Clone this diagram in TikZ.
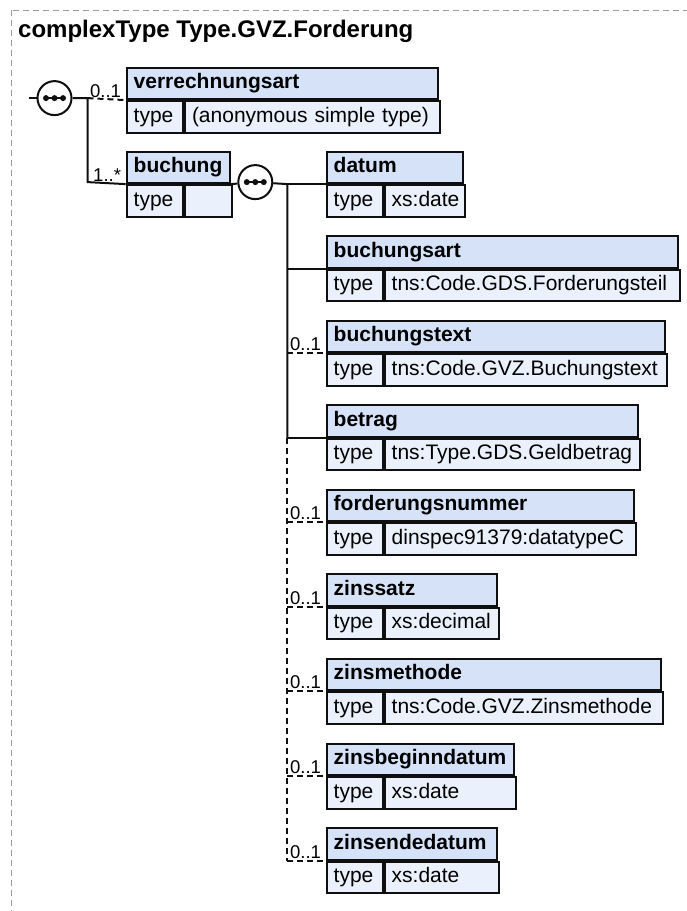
\documentclass[tikz,border=0pt]{standalone}
\usepackage{fontspec}
\setmainfont{Liberation Sans}
\usepackage{xcolor}
\usepackage{tikz}
\usetikzlibrary{positioning}
\definecolor{hdrblue}{RGB}{214,226,247}
\definecolor{bodyblue}{RGB}{235,241,252}
\definecolor{framegray}{RGB}{155,155,155}
\definecolor{linegray}{RGB}{15,15,15}

\begin{document}
\begin{tikzpicture}[
  x=1pt, y=-1pt,
  every node/.style={inner sep=0pt},
  hdr/.style={draw=linegray, fill=hdrblue, line width=2pt, rectangle, anchor=north west,
              minimum height=31.4pt, inner xsep=7pt, align=left,
              text height=15pt, text depth=4.5pt,
              font=\fontsize{21}{25}\selectfont\bfseries},
  cell/.style={draw=linegray, fill=bodyblue, line width=2pt, rectangle,
               minimum height=31.6pt, inner xsep=7pt, align=left,
               text height=15pt, text depth=4.5pt,
               font=\fontsize{21}{25}\selectfont},
  card/.style={anchor=base east, font=\fontsize{18.5}{22}\selectfont},
  seq/.style={draw=linegray, fill=white, circle, line width=2pt, minimum size=34pt},
  link/.style={draw=linegray, line width=2pt},
  optlink/.style={link, dash pattern=on 6pt off 4pt}
]
\useasboundingbox (0,0) rectangle (687,911);
\clip (0,0) rectangle (687,911);
\draw[framegray, line width=1pt, dash pattern=on 6pt off 4pt] (11.5,10) rectangle (700,925);
\node[anchor=base west, font=\fontsize{24}{29}\selectfont\bfseries] (title) at (18,37)
  {complexType Type.GVZ.Forderung};

% first level
\node[seq] (seq1) at (54.5,98.1) {};
\node[hdr, text width=297.3pt] (hv) at (125.7,66.7) {verrechnungsart};
\node[cell, text width=42.3pt, below right=0pt and 0pt of hv.south west] (tv) {type};
\node[cell, text width=241pt, right=0pt of tv] (vv) {(anonymous simple type)};
\node[hdr, text width=89.3pt] (hb) at (125.7,150.7) {buchung};
\node[cell, text width=42.3pt, below right=0pt and 0pt of hb.south west] (tb) {type};
\node[cell, text width=33pt, right=0pt of tb] (vb) {};
\node[card] (cv) at ([xshift=-4.5pt,yshift=2.5pt]hv.south west) {0..1};
\node[card] (cb) at ([xshift=-4.5pt,yshift=2.5pt]hb.south west) {1..*};

\coordinate (stub) at (28.5,98.1);
\coordinate (k0) at (87.5,98.1);
\coordinate (k1) at (87.5,182.1);
\draw[link] (stub) -- (seq1);
\draw[link] (seq1) -- (k0) -- (k1) -- (hb.south west);
\draw[optlink] (k0) -- (hv.south west);

% children of buchung
\node[seq] (seq2) at (255.3,182.1) {};
\draw[link] (hb.south east) -- (seq2);
\foreach \i/\nm/\ty/\bw/\isopt in {
    0/datum/xs:date/136/0,
    1/buchungsart/tns:Code.GDS.Forderungsteil/351.3/0,
    2/buchungstext/tns:Code.GVZ.Buchungstext/338.3/1,
    3/betrag/tns:Type.GDS.Geldbetrag/311/0,
    4/forderungsnummer/dinspec91379:datatypeC/307.6/1,
    5/zinssatz/xs:decimal/170.3/1,
    6/zinsmethode/tns:Code.GVZ.Zinsmethode/334.3/1,
    7/zinsbeginndatum/xs:date/187.6/1,
    8/zinsendedatum/xs:date/170.3/1}{
  \pgfmathsetmacro\ytop{150.7+84.55*\i}
  \pgfmathsetmacro\hw{\bw-14}
  \pgfmathsetmacro\vw{\bw-56-14}
  \node[hdr, text width=\hw pt] (h\i) at (325.7,\ytop) {\nm};
  \node[cell, text width=42pt, below right=0pt and 0pt of h\i.south west] (t\i) {type};
  \node[cell, text width=\vw pt, right=0pt of t\i] (v\i) {\ty};
  \coordinate (j\i) at ([xshift=-38.4pt]h\i.south west);
  \ifnum\isopt=1
    \draw[optlink] (j\i) -- (h\i.south west);
    \node[card] (c\i) at ([xshift=-4.5pt,yshift=2.5pt]h\i.south west) {0..1};
  \else
    \draw[link] (j\i) -- (h\i.south west);
  \fi
}
\draw[link] (seq2) -- (j0) -- (j3);
\draw[optlink] (j3) -- (j8);

\foreach \s in {seq1,seq2}{
  \draw[linegray, line width=1.8pt] ([xshift=-8.5pt]\s.center) -- ([xshift=8.5pt]\s.center);
  \foreach \dx in {-8.5,0,8.5}
    \fill[linegray] ([xshift=\dx pt]\s.center) circle (3pt);
}
\end{tikzpicture}
\end{document}
